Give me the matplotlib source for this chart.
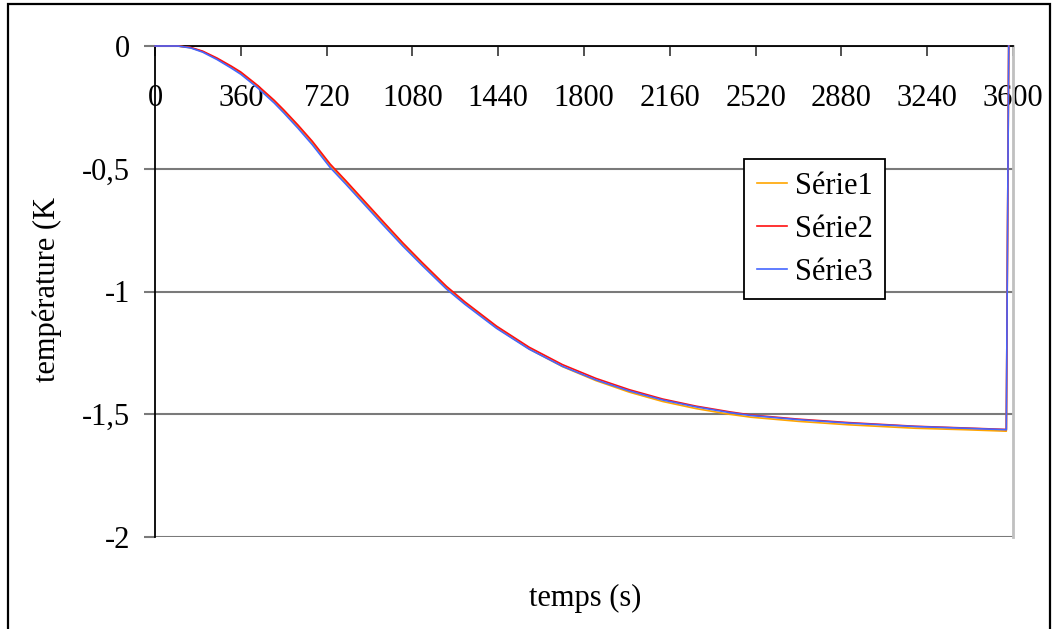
import matplotlib
matplotlib.use('Agg')
import matplotlib.pyplot as plt
from matplotlib.patches import Rectangle

# Data (time in s, temperature in K)
temps = [0, 95, 150, 200, 260, 320, 360, 430, 500, 540, 600, 660, 735, 800, 880, 960,
         1040, 1120, 1223, 1300, 1433, 1570, 1710, 1850, 1990, 2130, 2270, 2410, 2500,
         2700, 2910, 3190, 3400, 3572, 3582]
serie1 = [0, 0, -0.007, -0.023, -0.052, -0.086, -0.110, -0.165, -0.226, -0.266, -0.328,
          -0.395, -0.488, -0.555, -0.640, -0.725, -0.809, -0.887, -0.985, -1.048, -1.147,
          -1.234, -1.306, -1.363, -1.410, -1.448, -1.477, -1.500, -1.512, -1.529, -1.543,
          -1.557, -1.563, -1.569, 0]
serie2 = [0, 0, -0.006, -0.021, -0.049, -0.082, -0.106, -0.160, -0.221, -0.260, -0.322,
          -0.388, -0.481, -0.548, -0.633, -0.718, -0.802, -0.881, -0.979, -1.042, -1.141,
          -1.227, -1.298, -1.354, -1.400, -1.438, -1.467, -1.490, -1.503, -1.520, -1.534,
          -1.549, -1.556, -1.562, 0]
serie3 = [0, 0, -0.008, -0.025, -0.055, -0.090, -0.115, -0.170, -0.232, -0.272, -0.335,
          -0.402, -0.495, -0.562, -0.647, -0.732, -0.815, -0.893, -0.990, -1.052, -1.150,
          -1.235, -1.305, -1.360, -1.405, -1.442, -1.470, -1.493, -1.505, -1.522, -1.536,
          -1.550, -1.557, -1.563, 0]

series_names = ['Série1', 'Série2', 'Série3']
series_colors = ['#FFA500', '#FF1010', '#4466FF']

x_ticks = list(range(0, 3601, 360))
y_ticks = [-2, -1.5, -1, -0.5, 0]
y_tick_labels = ['-2', '-1,5', '-1', '-0,5', '0']

plt.rcParams['font.family'] = ['Liberation Serif', 'DejaVu Serif']
plt.rcParams['font.size'] = 22

W, H = 1053, 629
fig = plt.figure(figsize=(W / 100, H / 100), dpi=100)
ax = fig.add_axes([155 / W, 1 - 537 / H, (1013 - 155) / W, (537 - 46) / H])

for vals, name, col in zip([serie1, serie2, serie3], series_names, series_colors):
    ax.plot(temps, vals, color=col, lw=1.2, label=name, zorder=3, clip_on=False)

ax.set_xlim(0, 3600)
ax.set_ylim(-2, 0)
ax.set_xticks(x_ticks)
ax.set_yticks(y_ticks)
ax.set_yticklabels(y_tick_labels)

# x axis crosses at y = 0 (top of the plot area)
ax.spines['bottom'].set_position(('data', 0))
ax.spines['bottom'].set_color('black')
ax.spines['bottom'].set_linewidth(1.3)
ax.spines['left'].set_color('black')
ax.spines['left'].set_linewidth(1.3)
ax.spines['top'].set_visible(False)
ax.spines['right'].set_color('#c0c0c0')
ax.spines['right'].set_linewidth(2)

ax.tick_params(axis='x', direction='out', length=7, width=1.2, color='#333333', pad=20)
ax.tick_params(axis='y', direction='out', length=8, width=1.5, color='#7a7a7a', pad=10)

ax.yaxis.grid(True, color='#7a7a7a', lw=1.5)
ax.set_axisbelow(True)

fig.text(47 / W, 1 - 290 / H, 'température (K', rotation=90, ha='center', va='center')
fig.text(585 / W, 1 - 598 / H, 'temps (s)', ha='center', va='center')

leg = ax.legend(loc='upper left', bbox_to_anchor=(744 / W, 1 - 159 / H),
                bbox_transform=fig.transFigure, fancybox=False, edgecolor='black',
                framealpha=1, borderaxespad=0, handlelength=1.0, handletextpad=0.25,
                labelspacing=0.46, borderpad=0.41)
leg.get_frame().set_linewidth(1.3)

# outer chart frame (bottom edge falls outside the picture)
fig.add_artist(Rectangle((7.5 / W, -0.05), (1049.5 - 7.5) / W, 1.05 - 3.5 / H,
                         transform=fig.transFigure, fill=False, edgecolor='black',
                         lw=1.6, clip_on=False))

fig.savefig('out.png', dpi=100)
